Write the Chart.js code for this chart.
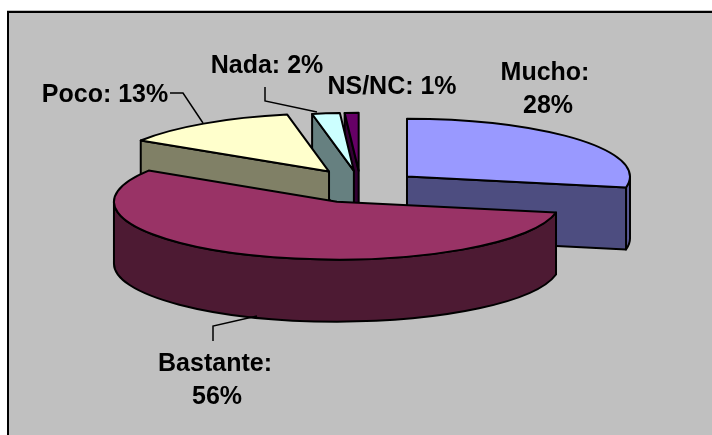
<!DOCTYPE html>
<html>
<head>
<meta charset="utf-8">
<style>
  html, body { margin: 0; padding: 0; background: #fff; }
  canvas { display: block; }
</style>
<script src="https://cdn.jsdelivr.net/npm/chart.js@4"></script>
</head>
<body>
<canvas id="pie3d" width="712" height="435"></canvas>
<script>
const categories = ["Mucho", "Bastante", "Poco", "Nada", "NS/NC"];
const percentages = [28, 56, 13, 2, 1];
const topColors = ["#9999FF", "#993366", "#FFFFCC", "#CCFFFF", "#660066"];
const wallColors = ["#4D4D80", "#4D1A33", "#808066", "#668080", "#330033"];
const rimColors = ["#5C5C99", "#4D1A33", "#808066", "#668080", "#330033"];

// back to front, so Bastante ends up over the rest
const drawOrder = [0, 4, 3, 2, 1];

// pie projection
const centerX = 359.6;
const centerY = 186.8;
const tilt = 0.26;
const depth = 62;
const explode = 61.5;
// small per slice corrections, the original is not quite regular
const sliceNudge = [[0, 0], [0, 0], [4, -2], [2, 0], [1, 0]];

// label lines per slice, [x, baseline, text], centred
const labelLines = [
  [[545, 80, "Mucho:"], [548, 113, "28%"]],
  [[215, 371, "Bastante:"], [217, 404, "56%"]],
  [[105, 102, "Poco: 13%"]],
  [[267, 73, "Nada: 2%"]],
  [[392, 94, "NS/NC: 1%"]],
];
const leaders = [
  [[170, 93], [183, 93], [203, 123]],
  [[265, 87], [265, 101], [317, 112]],
  [[213, 341], [213, 326], [257, 316]],
];

function sliceGeom(arc, i) {
  const p = arc.getProps(["startAngle", "endAngle", "outerRadius", "x", "y"], true);
  const mid = (p.startAngle + p.endAngle) / 2;
  return {
    arc: p,
    start: p.startAngle,
    end: p.endAngle,
    rx: p.outerRadius,
    ry: p.outerRadius * tilt,
    cx: centerX + Math.cos(mid) * explode + sliceNudge[i][0],
    cy: centerY + Math.sin(mid) * explode * tilt + sliceNudge[i][1],
  };
}

function drawCutWall(ctx, g, angle, color) {
  const rimX = g.cx + Math.cos(angle) * g.rx;
  const rimY = g.cy + Math.sin(angle) * g.ry;
  ctx.beginPath();
  ctx.moveTo(g.cx, g.cy);
  ctx.lineTo(rimX, rimY);
  ctx.lineTo(rimX, rimY + depth);
  ctx.lineTo(g.cx, g.cy + depth);
  ctx.closePath();
  ctx.fillStyle = color;
  ctx.fill();
  ctx.stroke();
}

function drawRimWall(ctx, g, color) {
  // only the part of the rim facing the viewer (0..PI)
  for (const shift of [0, Math.PI * 2, -Math.PI * 2]) {
    const a0 = Math.max(g.start, shift);
    const a1 = Math.min(g.end, shift + Math.PI);
    if (a1 <= a0) continue;
    ctx.beginPath();
    ctx.ellipse(g.cx, g.cy, g.rx, g.ry, 0, a0, a1);
    ctx.ellipse(g.cx, g.cy + depth, g.rx, g.ry, 0, a1, a0, true);
    ctx.closePath();
    ctx.fillStyle = color;
    ctx.fill();
    ctx.stroke();
  }
}

const pie3dPlugin = {
  id: "pie3d",
  beforeDraw(chart) {
    const ctx = chart.ctx;
    ctx.save();
    ctx.fillStyle = "#FFFFFF";
    ctx.fillRect(0, 0, chart.width, chart.height);
    ctx.fillStyle = "#C0C0C0";
    ctx.fillRect(7, 10, chart.width - 7, chart.height - 10);
    ctx.strokeStyle = "#000000";
    ctx.lineWidth = 2;
    ctx.beginPath();
    ctx.moveTo(8, chart.height);
    ctx.lineTo(8, 12);
    ctx.lineTo(chart.width, 12);
    ctx.stroke();
    ctx.restore();
  },
  beforeDatasetsDraw(chart) {
    const ctx = chart.ctx;
    const arcs = chart.getDatasetMeta(0).data;
    ctx.save();
    ctx.strokeStyle = "#000000";
    ctx.lineWidth = 2;
    ctx.lineJoin = "round";
    for (const i of drawOrder) {
      const g = sliceGeom(arcs[i], i);
      // side walls
      drawRimWall(ctx, g, rimColors[i]);
      if (Math.cos(g.start) < -0.001) drawCutWall(ctx, g, g.start, wallColors[i]);
      if (Math.cos(g.end) > 0.001) drawCutWall(ctx, g, g.end, wallColors[i]);
      // top face, the arc element itself squashed into the tilted plane
      ctx.save();
      ctx.translate(g.cx, g.cy);
      ctx.scale(1, tilt);
      ctx.translate(-g.arc.x, -g.arc.y);
      arcs[i].draw(ctx);
      ctx.restore();
      ctx.beginPath();
      ctx.moveTo(g.cx, g.cy);
      ctx.ellipse(g.cx, g.cy, g.rx, g.ry, 0, g.start, g.end);
      ctx.closePath();
      ctx.stroke();
    }
    ctx.restore();
    return false;
  },
  afterDraw(chart) {
    const ctx = chart.ctx;
    ctx.save();
    ctx.strokeStyle = "#000000";
    ctx.lineWidth = 1.5;
    for (const line of leaders) {
      ctx.beginPath();
      line.forEach((pt, n) => (n ? ctx.lineTo(pt[0], pt[1]) : ctx.moveTo(pt[0], pt[1])));
      ctx.stroke();
    }
    ctx.fillStyle = "#000000";
    ctx.font = "bold 25px 'Liberation Sans', Arial, sans-serif";
    ctx.textAlign = "center";
    ctx.textBaseline = "alphabetic";
    for (const lines of labelLines) {
      for (const [x, y, text] of lines) ctx.fillText(text, x, y);
    }
    ctx.restore();
  },
};

new Chart(document.getElementById("pie3d").getContext("2d"), {
  type: "pie",
  data: {
    labels: categories,
    datasets: [
      {
        data: percentages,
        backgroundColor: topColors,
        borderWidth: 0,
        hoverOffset: 0,
      },
    ],
  },
  options: {
    responsive: false,
    animation: false,
    radius: 223,
    plugins: {
      legend: { display: false },
      tooltip: { enabled: false },
    },
  },
  plugins: [pie3dPlugin],
});
</script>
</body>
</html>
